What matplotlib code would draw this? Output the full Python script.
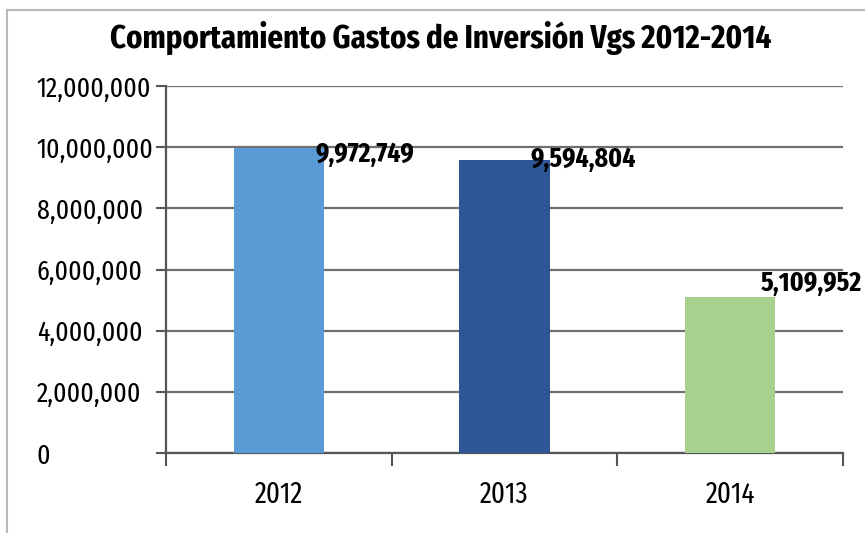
import matplotlib
matplotlib.use("Agg")
import matplotlib.pyplot as plt
from matplotlib.lines import Line2D
from matplotlib.ticker import FuncFormatter, FixedLocator

# data
years = ["2012", "2013", "2014"]
gastos = [9972749, 9594804, 5109952]
colores = ["#5B9BD5", "#2E5596", "#A9D18E"]

# where each value label sits relative to its bar (x in categories, y in value units)
label_dx = [0.38, 0.35, 0.36]
label_dy = [-200000, 0, 450000]

plt.rcParams['font.family'] = ['Fira Sans Extra Condensed', 'DejaVu Sans']

fig = plt.figure(figsize=(8.65, 5.33), dpi=100)
ax = fig.add_axes([166/865, 1-453/533, (843-166)/865, (453-86)/533])

x = range(len(years))
ax.bar(x, gastos, 0.4, color=colores, zorder=3)
for i in x:
    ax.text(i + label_dx[i], gastos[i] + label_dy[i], "{:,}".format(gastos[i]),
            ha='center', va='center', fontsize=20, fontweight='bold', zorder=4)

ax.set_xlim(-0.5, 2.5)
ax.set_ylim(0, 12000000)
ax.set_yticks(range(0, 12000001, 2000000))
ax.yaxis.set_major_formatter(FuncFormatter(lambda v, p: "{:,}".format(int(v))))
ax.yaxis.grid(True, color='#707070', linewidth=1.6, zorder=1)

ax.set_xticks(list(x))
ax.set_xticklabels(years)
ax.xaxis.set_minor_locator(FixedLocator([-0.5, 0.5, 1.5, 2.5]))
ax.tick_params(axis='x', which='major', length=0, pad=20, labelsize=21)
ax.tick_params(axis='x', which='minor', length=9, width=1.5, color='#555555')
# y labels are left-aligned in the original
ax.tick_params(axis='y', length=7, width=1.5, color='#555555', pad=86, labelsize=20)
for lab in ax.get_yticklabels():
    lab.set_horizontalalignment('left')

for s in ['top', 'right']:
    ax.spines[s].set_visible(False)
for s in ['left', 'bottom']:
    ax.spines[s].set_color('#555555')
    ax.spines[s].set_linewidth(1.6)

fig.text(441/865, 1-38/533, "Comportamiento Gastos de Inversión Vgs 2012-2014",
         ha='center', va='center', fontsize=24, fontweight='bold')

# chart frame border (left and top)
fig.add_artist(Line2D([7/865, 7/865], [0, 1-10/533], color='#b8b8b8', linewidth=1.5))
fig.add_artist(Line2D([7/865, 1], [1-10/533, 1-10/533], color='#b8b8b8', linewidth=1.5))

plt.savefig("out.png")
